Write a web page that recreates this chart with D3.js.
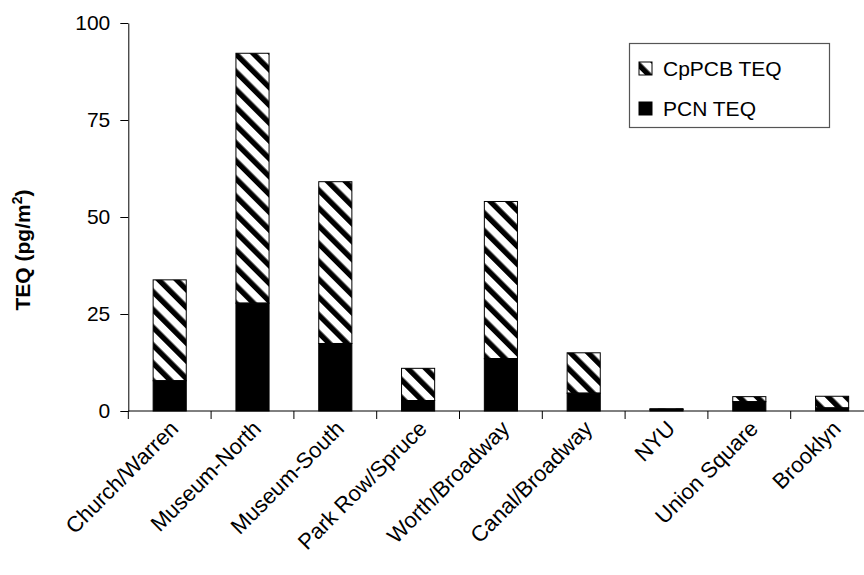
<!DOCTYPE html>
<html><head><meta charset="utf-8">
<script src="https://cdn.jsdelivr.net/npm/d3@7"></script>
<style>body{margin:0;background:#fff;} svg{display:block;font-family:"Liberation Sans",Arial,sans-serif;}</style>
</head><body>
<svg id="chart" width="864" height="575"></svg>
<script>
const categories = ["Church/Warren","Museum-North","Museum-South","Park Row/Spruce","Worth/Broadway","Canal/Broadway","NYU","Union Square","Brooklyn"];
const pcnTEQ   = [7.8, 27.8, 17.4, 2.7, 13.5, 4.6, 0.4, 2.4, 0.8];
const cppcbTEQ = [26.0, 64.4, 41.7, 8.3, 40.5, 10.4, 0.2, 1.3, 3.0];
const yTicks = [0, 25, 50, 75, 100];
const seriesNames = ["CpPCB TEQ", "PCN TEQ"];

(function(){
const svg = d3.select("#chart");
const plotLeft = 128.3, step = 82.8, plotTop = 23, plotBottom = 411;
const x = d3.scaleBand().domain(categories).range([plotLeft, plotLeft + step * categories.length]).padding(0);
const y = d3.scaleLinear().domain([0, 100]).range([plotBottom, plotTop]);

const defs = svg.append("defs");
const pat = defs.append("pattern").attr("id","hatch").attr("patternUnits","userSpaceOnUse")
  .attr("width",12.6).attr("height",20).attr("patternTransform","rotate(-45)");
pat.append("rect").attr("width",12.6).attr("height",20).attr("fill","#fff");
pat.append("rect").attr("x",0).attr("width",5.4).attr("height",20).attr("fill","#000");

const bw = x.bandwidth() * 0.4, off = x.bandwidth() * 0.3;
const g = svg.append("g");
categories.forEach((c, i) => {
  const x0 = x(c) + off;
  const p = pcnTEQ[i], t = pcnTEQ[i] + cppcbTEQ[i];
  g.append("rect").attr("x", x0).attr("y", y(t)).attr("width", bw).attr("height", y(p) - y(t))
    .attr("fill","url(#hatch)").attr("stroke","#000").attr("stroke-width",1);
  g.append("rect").attr("x", x0).attr("y", y(p)).attr("width", bw).attr("height", y(0) - y(p))
    .attr("fill","#000").attr("stroke","#000").attr("stroke-width",1);
});

// Y axis
const ya = svg.append("g").attr("transform",`translate(${plotLeft},0)`)
  .call(d3.axisLeft(y).tickValues(yTicks).tickSize(8).tickPadding(10).tickSizeOuter(0));
ya.select(".domain").attr("stroke","#000");
ya.selectAll(".tick line").attr("stroke","#000");
ya.selectAll(".tick text").attr("font-size",21).attr("font-family","Liberation Sans, Arial, sans-serif").attr("fill","#000");

// X axis
const xa = svg.append("g");
xa.append("line").attr("x1",plotLeft).attr("x2",plotLeft + step*categories.length).attr("y1",plotBottom).attr("y2",plotBottom).attr("stroke","#000");
categories.forEach(c => {
  xa.append("line").attr("x1",x(c)).attr("x2",x(c)).attr("y1",plotBottom).attr("y2",plotBottom+8).attr("stroke","#000");
});
categories.forEach(c => {
  const cx = x(c) + x.bandwidth()/2;
  xa.append("text").attr("transform",`translate(${cx+10},${plotBottom+19}) rotate(-45)`)
    .attr("text-anchor","end").attr("font-size",22).attr("fill","#000").text(c);
});

// Y label
const yl = svg.append("text").attr("transform","translate(30,250) rotate(-90)")
  .attr("text-anchor","middle").attr("font-size",21).attr("font-weight","bold").attr("fill","#000");
yl.append("tspan").text("TEQ (pg/m");
yl.append("tspan").attr("dy",-8).attr("font-size",14).text("2");
yl.append("tspan").attr("dy",8).text(")");

// Legend
const lg = svg.append("g");
lg.append("rect").attr("x",629.5).attr("y",43.5).attr("width",200).attr("height",84)
  .attr("fill","#fff").attr("stroke","#555").attr("stroke-width",1.2);
const fills = ["url(#hatch)", "#000"];
seriesNames.forEach((s, i) => {
  const cy = 68 + i*40;
  lg.append("rect").attr("x",639).attr("y",cy-6).attr("width",13).attr("height",13)
    .attr("fill",fills[i]).attr("stroke","#000");
  lg.append("text").attr("x",663).attr("y",cy+7.5).attr("font-size",21).attr("fill","#000").text(s);
});
})();
</script>
</body></html>
